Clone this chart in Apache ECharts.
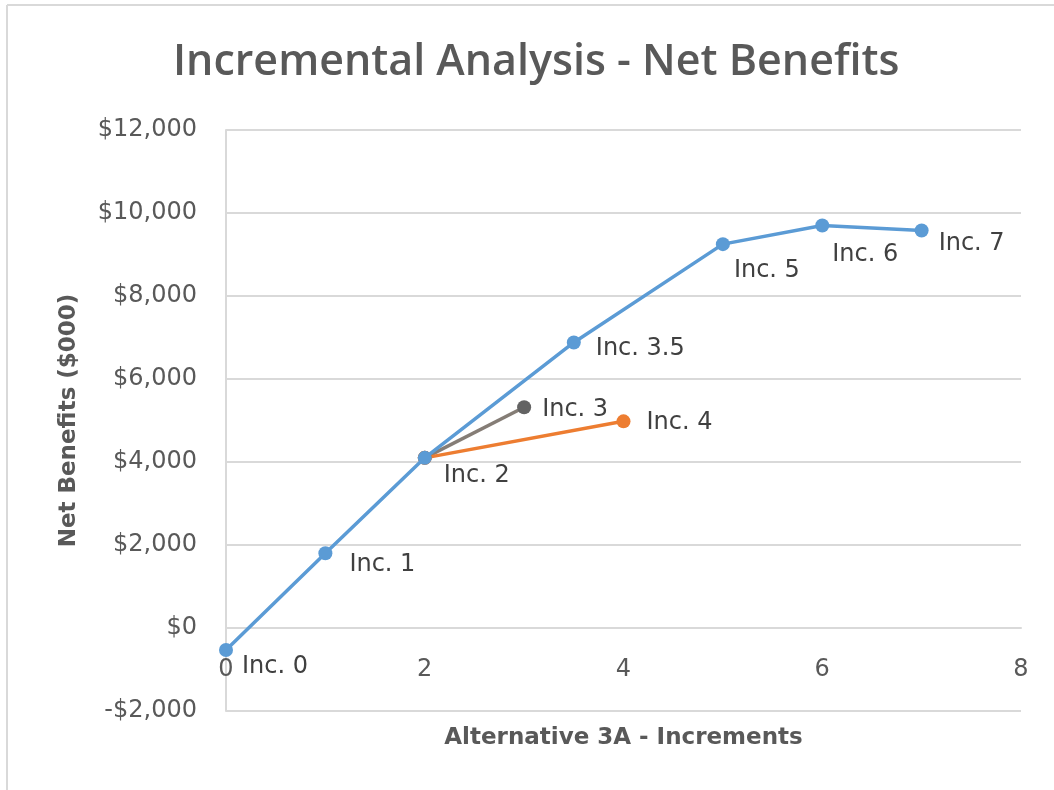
<!DOCTYPE html>
<html>
<head>
<meta charset="utf-8">
<script src="https://cdn.jsdelivr.net/npm/echarts@6/dist/echarts.min.js"></script>
<style>
html,body{margin:0;padding:0;background:#fff;}
#chart{width:1054px;height:790px;}
</style>
</head>
<body>
<div id="chart"></div>
<script>
// ---- data ----
var mainX = [0, 1, 2, 3.5, 5, 6, 7];
var mainY = [-530, 1800, 4100, 6880, 9250, 9700, 9580];
var mainLabels = ['Inc. 0', 'Inc. 1', 'Inc. 2', 'Inc. 3.5', 'Inc. 5', 'Inc. 6', 'Inc. 7'];

var inc3X = [2, 3];
var inc3Y = [4100, 5320];
var inc3Labels = ['', 'Inc. 3'];

var inc4X = [2, 4];
var inc4Y = [4100, 4980];
var inc4Labels = ['', 'Inc. 4'];

var xTicks = [0, 2, 4, 6, 8];
var yTicks = [-2000, 0, 2000, 4000, 6000, 8000, 10000, 12000];

// label nudges (layout only)
var mainOffsets = [[4, 17], [12, 11], [7, 18], [10, 6], [-1, 27], [-2, 29], [5, 13]];
var inc3Offsets = [[0, 0], [6, 3]];
var inc4Offsets = [[0, 0], [11, 1]];

function build(xs, ys, labels, offsets) {
  return xs.map(function (x, i) {
    return {
      value: [x, ys[i]],
      name: labels[i],
      label: { show: labels[i] !== '', offset: offsets[i] }
    };
  });
}

function money(v) {
  var s = Math.abs(v).toString().replace(/\B(?=(\d{3})+(?!\d))/g, ',');
  return (v < 0 ? '-$' : '$') + s;
}

var labelStyle = {
  position: 'right',
  distance: 5,
  color: '#404040',
  fontFamily: 'DejaVu Sans',
  fontSize: 24,
  formatter: function (p) { return p.name; }
};

var gridTop = 130, gridBottom = 79, chartH = 790;
var plotH = chartH - gridTop - gridBottom;
var yMin = yTicks[0], yMax = yTicks[yTicks.length - 1];
// shift x axis up from the grid bottom to the y = 0 line
var xAxisOffset = -Math.round(plotH * (0 - yMin) / (yMax - yMin));

var chart = echarts.init(document.getElementById('chart'));
chart.setOption({
  animation: false,
  backgroundColor: '#ffffff',
  title: {
    text: 'Incremental Analysis - Net Benefits',
    left: 168,
    top: 36,
    textStyle: { fontFamily: 'Open Sans', fontWeight: 600, fontSize: 43, color: '#595959' }
  },
  graphic: [
    { type: 'line', shape: { x1: 7, y1: 5, x2: 1054, y2: 5 }, style: { stroke: '#d9d9d9', lineWidth: 2 } },
    { type: 'line', shape: { x1: 7, y1: 5, x2: 7, y2: 790 }, style: { stroke: '#d9d9d9', lineWidth: 2 } }
  ],
  grid: { left: 226, right: 33, top: gridTop, bottom: gridBottom, containLabel: false, outerBoundsMode: 'none' },
  xAxis: {
    type: 'value',
    min: xTicks[0],
    max: xTicks[xTicks.length - 1],
    interval: 2,
    position: 'bottom',
    offset: xAxisOffset,
    name: 'Alternative 3A - Increments',
    nameLocation: 'middle',
    nameGap: 99,
    nameTextStyle: { fontFamily: 'DejaVu Sans', fontWeight: 'bold', fontSize: 23, color: '#595959' },
    axisLine: { show: true, onZero: false, lineStyle: { color: '#d9d9d9', width: 2 } },
    axisTick: { show: false },
    splitLine: { show: false },
    axisLabel: { margin: 30, fontFamily: 'DejaVu Sans', fontSize: 24, color: '#595959' }
  },
  yAxis: {
    type: 'value',
    min: yMin,
    max: yMax,
    interval: 2000,
    name: 'Net Benefits ($000)',
    nameLocation: 'middle',
    nameGap: 145,
    nameTextStyle: { fontFamily: 'DejaVu Sans', fontWeight: 'bold', fontSize: 23, color: '#595959' },
    axisLine: { show: true, onZero: false, lineStyle: { color: '#d9d9d9', width: 2 } },
    axisTick: { show: false },
    splitLine: { show: true, lineStyle: { color: '#d9d9d9', width: 2 } },
    axisLabel: { margin: 29, fontFamily: 'DejaVu Sans', fontSize: 24, color: '#595959', formatter: money }
  },
  series: [
    {
      type: 'line',
      data: build(inc3X, inc3Y, inc3Labels, inc3Offsets),
      symbol: 'circle',
      symbolSize: 14,
      lineStyle: { color: '#857d76', width: 3.5 },
      itemStyle: { color: '#636363' },
      label: labelStyle,
      z: 2
    },
    {
      type: 'line',
      data: build(inc4X, inc4Y, inc4Labels, inc4Offsets),
      symbol: 'circle',
      symbolSize: 14,
      lineStyle: { color: '#ed7d31', width: 3.5 },
      itemStyle: { color: '#ed7d31' },
      label: labelStyle,
      z: 2
    },
    {
      type: 'line',
      data: build(mainX, mainY, mainLabels, mainOffsets),
      symbol: 'circle',
      symbolSize: 14,
      lineStyle: { color: '#5b9bd5', width: 3.5 },
      itemStyle: { color: '#5b9bd5' },
      label: labelStyle,
      z: 3
    }
  ]
});
</script>
</body>
</html>
